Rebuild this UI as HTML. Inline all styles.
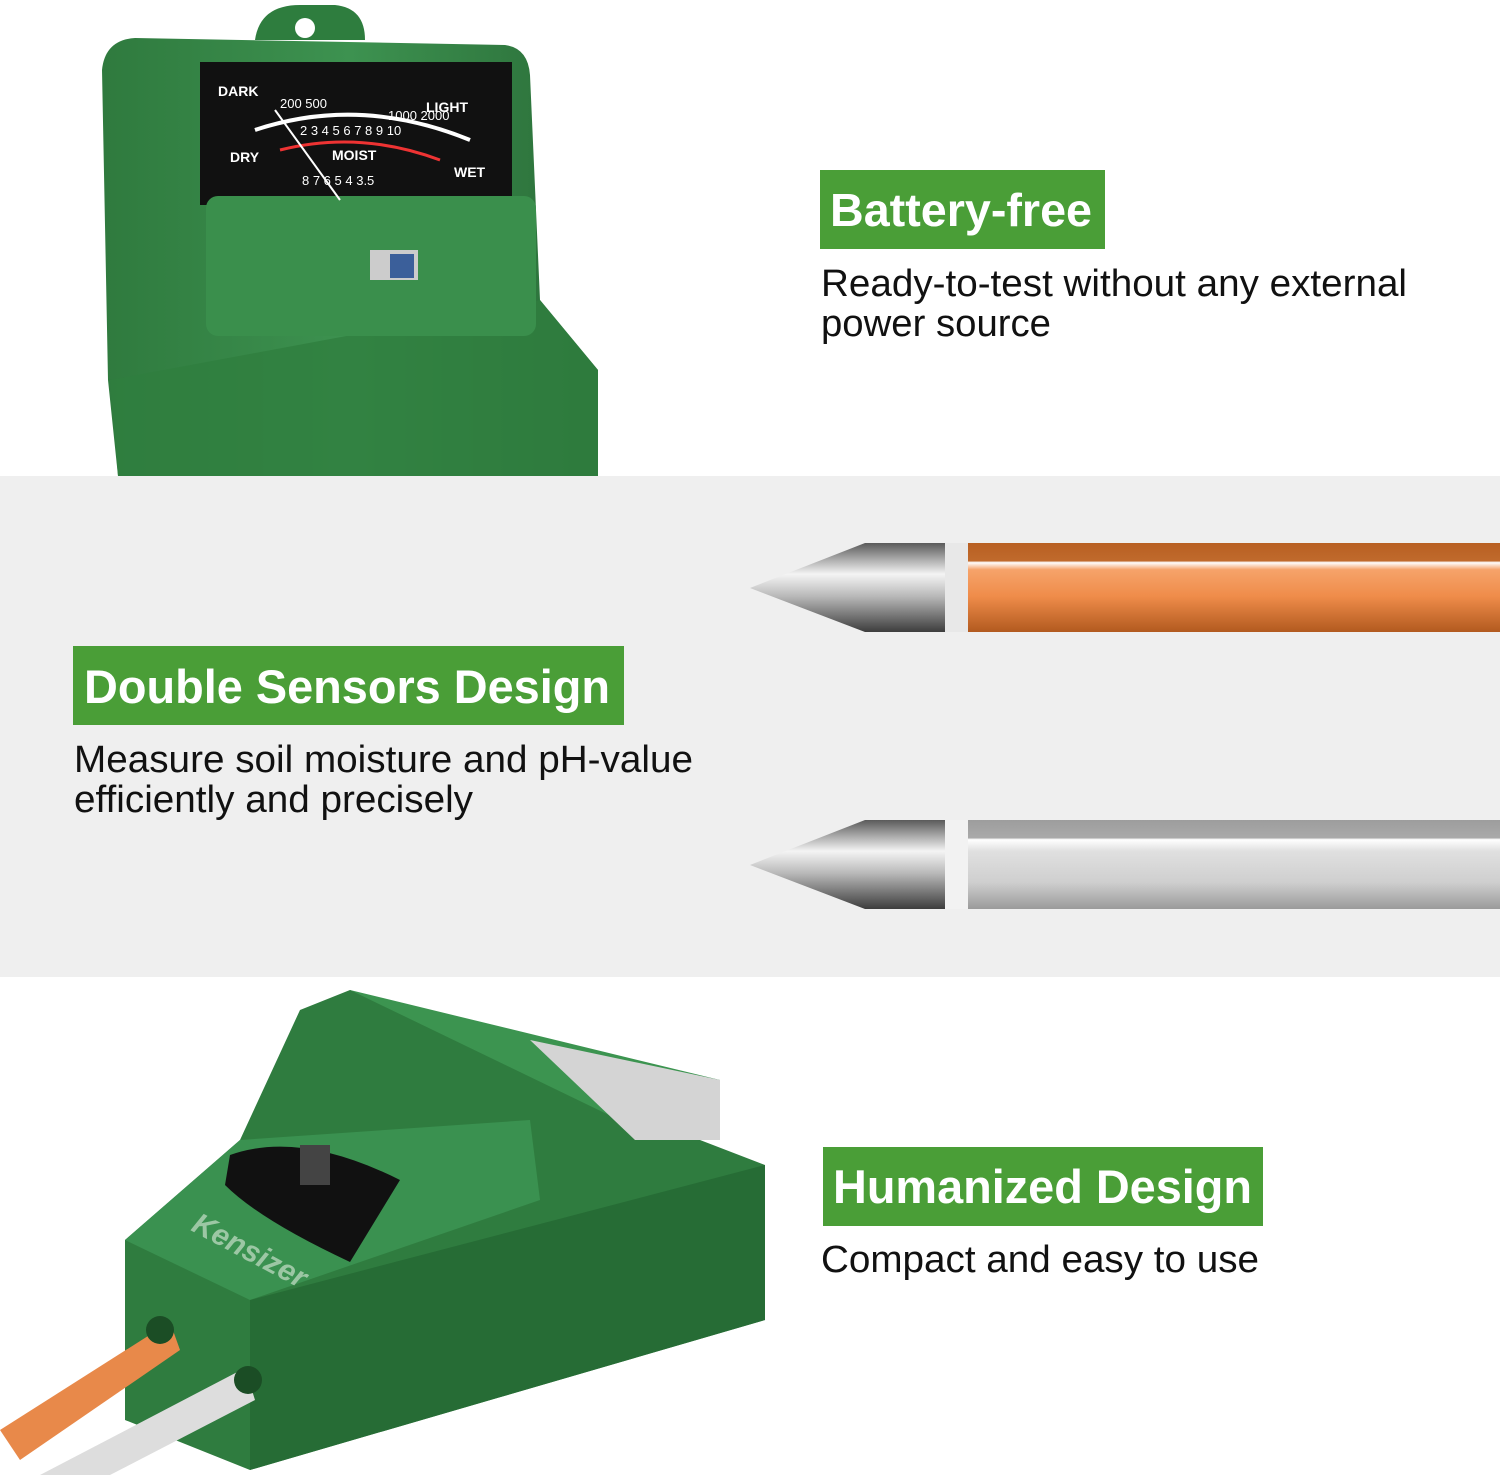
<!DOCTYPE html>
<html><head><meta charset="utf-8"><style>
body{margin:0;width:1500px;height:1475px;overflow:hidden;background:#fff;font-family:"Liberation Sans",sans-serif}
</style></head><body>
<svg width="1500" height="1475" viewBox="0 0 1500 1475" xmlns="http://www.w3.org/2000/svg" font-family="Liberation Sans, sans-serif">
<defs>
<linearGradient id="met" x1="0" y1="0" x2="0" y2="1">
<stop offset="0" stop-color="#5a5a5a"/><stop offset="0.35" stop-color="#f4f4f4"/><stop offset="0.6" stop-color="#b8b8b8"/><stop offset="1" stop-color="#3d3d3d"/></linearGradient>
<linearGradient id="org" x1="0" y1="0" x2="0" y2="1">
<stop offset="0" stop-color="#b85f22"/><stop offset="0.2" stop-color="#c06a2c"/><stop offset="0.22" stop-color="#fff"/><stop offset="0.3" stop-color="#f6a36a"/><stop offset="0.6" stop-color="#ef8c4a"/><stop offset="1" stop-color="#b25a1f"/></linearGradient>
<linearGradient id="sil" x1="0" y1="0" x2="0" y2="1">
<stop offset="0" stop-color="#9d9d9d"/><stop offset="0.2" stop-color="#a9a9a9"/><stop offset="0.22" stop-color="#fff"/><stop offset="0.35" stop-color="#e0e0e0"/><stop offset="0.7" stop-color="#cfcfcf"/><stop offset="1" stop-color="#9a9a9a"/></linearGradient>
<linearGradient id="grn" x1="0" y1="0" x2="1" y2="0">
<stop offset="0" stop-color="#2f7a3e"/><stop offset="0.5" stop-color="#3d9250"/><stop offset="1" stop-color="#2a6d38"/></linearGradient>
</defs>
<rect x="0" y="476" width="1500" height="501" fill="#efefef"/>
<!-- top device -->
<path d="M255 40 Q260 5 300 5 L335 5 Q365 8 365 40 Z" fill="#2e7d3e"/>
<circle cx="305" cy="28" r="10" fill="#fff"/>
<path d="M102 70 Q105 40 135 38 L505 45 Q528 48 530 75 L540 300 L598 370 L598 476 L118 476 L108 380 Z" fill="url(#grn)"/>
<path d="M110 380 L540 300 L598 370 L598 476 L118 476 Z" fill="#2f7e3f" opacity="0.8"/>
<rect x="200" y="62" width="312" height="143" fill="#111"/>
<rect x="206" y="196" width="330" height="140" rx="12" fill="#3a8f4c"/>
<rect x="370" y="250" width="48" height="30" fill="#ccc"/>
<rect x="390" y="254" width="24" height="24" fill="#3b5f9a"/>
<g fill="#fff" font-weight="bold" font-size="14">
<text x="218" y="96">DARK</text><text x="426" y="112">LIGHT</text><text x="230" y="162">DRY</text><text x="332" y="160">MOIST</text><text x="454" y="177">WET</text>
<text x="280" y="108" font-weight="normal" font-size="13">200 500</text><text x="388" y="120" font-weight="normal" font-size="13">1000 2000</text>
<text x="300" y="135" font-weight="normal" font-size="13">2 3 4 5 6 7 8 9 10</text>
<text x="302" y="185" font-weight="normal" font-size="13">8 7 6 5 4 3.5</text>
</g>
<path d="M255 130 Q360 95 470 140" stroke="#fff" stroke-width="4" fill="none"/>
<path d="M280 150 Q360 130 440 160" stroke="#e33" stroke-width="3" fill="none"/>
<line x1="275" y1="110" x2="340" y2="200" stroke="#fff" stroke-width="2"/>
<!-- labels -->
<rect x="820" y="170" width="285" height="79" fill="#4a9e37"/>
<text x="830" y="226" font-size="46" font-weight="bold" fill="#fff" textLength="262" lengthAdjust="spacingAndGlyphs">Battery-free</text>
<text x="821" y="296" font-size="38" fill="#111" textLength="586" lengthAdjust="spacingAndGlyphs">Ready-to-test without any external</text>
<text x="821" y="336" font-size="38" fill="#111" textLength="230" lengthAdjust="spacingAndGlyphs">power source</text>
<rect x="73" y="646" width="551" height="79" fill="#4a9e37"/>
<text x="84" y="703" font-size="47" font-weight="bold" fill="#fff" textLength="526" lengthAdjust="spacingAndGlyphs">Double Sensors Design</text>
<text x="74" y="772" font-size="38" fill="#111" textLength="619" lengthAdjust="spacingAndGlyphs">Measure soil moisture and pH-value</text>
<text x="74" y="812" font-size="38" fill="#111" textLength="399" lengthAdjust="spacingAndGlyphs">efficiently and precisely</text>
<rect x="823" y="1147" width="440" height="79" fill="#4a9e37"/>
<text x="833" y="1203" font-size="47" font-weight="bold" fill="#fff" textLength="419" lengthAdjust="spacingAndGlyphs">Humanized Design</text>
<text x="821" y="1272" font-size="38" fill="#111" textLength="438" lengthAdjust="spacingAndGlyphs">Compact and easy to use</text>
<!-- probes -->
<rect x="965" y="543" width="535" height="89" fill="url(#org)"/>
<rect x="940" y="543" width="28" height="89" fill="#e8e8e8"/>
<path d="M750 588 L865 543 L945 543 L945 632 L865 632 Z" fill="url(#met)"/>
<rect x="965" y="820" width="535" height="89" fill="url(#sil)"/>
<rect x="940" y="820" width="28" height="89" fill="#f2f2f2"/>
<path d="M750 865 L865 820 L945 820 L945 909 L865 909 Z" fill="url(#met)"/>
<!-- bottom device -->
<path d="M350 990 L720 1080 L640 1130 L330 1060 Z" fill="#3c9450"/>
<path d="M300 1010 L350 990 L640 1130 L700 1140 L765 1165 L765 1320 L250 1470 L125 1420 L125 1240 L240 1140 Z" fill="#2f7c3f"/>
<path d="M125 1240 L240 1140 L530 1120 L540 1200 L250 1300 Z" fill="#3a9150"/>
<path d="M250 1300 L765 1165 L765 1320 L250 1470 Z" fill="#266c35"/>
<path d="M530 1040 L720 1080 L720 1140 L635 1140 Z" fill="#d4d4d4"/>
<path d="M230 1155 Q300 1130 400 1180 L350 1262 Q260 1220 225 1185 Z" fill="#111"/>
<rect x="300" y="1145" width="30" height="40" fill="#444"/>
<text x="190" y="1230" font-size="30" font-style="italic" font-weight="bold" fill="#9cc7a4" transform="rotate(28 190 1230)">Kensizer</text>
<path d="M0 1430 L170 1322 L180 1350 L20 1460 Z" fill="#e8894a"/>
<path d="M40 1475 L245 1368 L255 1400 L110 1475 Z" fill="#ddd"/>
<circle cx="160" cy="1330" r="14" fill="#1b4d25"/><circle cx="248" cy="1380" r="14" fill="#1b4d25"/>
</svg>
</body></html>
